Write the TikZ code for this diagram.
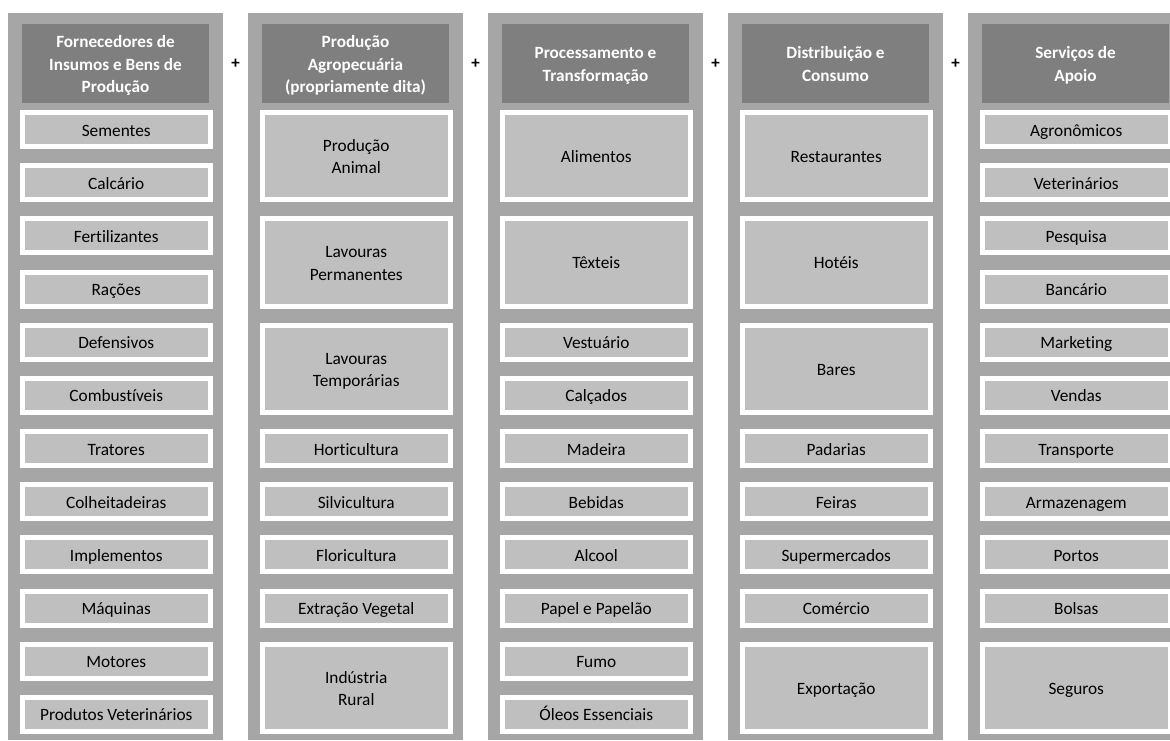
\documentclass[tikz,border=0pt]{standalone}
\usepackage{fontspec}
\setmainfont{Carlito}[Ligatures=NoCommon]
\definecolor{colbg}{HTML}{A6A6A6}
\definecolor{headbg}{HTML}{7F7F7F}
\definecolor{itembg}{HTML}{BFBFBF}

% struts that fix the height of the first line and the depth of the last one
\newcommand\topstrut{\rule{0pt}{17.5pt}}
\newcommand\botstrut{\rule[-4.5pt]{0pt}{4.5pt}}

% \cell{name}{column left x}{first slot}{slots spanned}{text}
\newcommand\cell[5]{%
  \pgfmathsetmacro\celltop{110+53.18*#3}%
  \pgfmathsetmacro\cellbot{110+53.18*(#3+#4-1)+39}%
  \pgfmathsetmacro\cellh{\cellbot-\celltop-5}%
  \pgfmathsetmacro\celly{(\celltop+\cellbot)/2}%
  \node[itembox, minimum height=\cellh pt] (#1) at ({#2+108.25},\celly) {\topstrut#5\botstrut};%
}
% \column{name}{column left x}{header text}
\newcommand\column[3]{%
  \fill[colbg] (#2,13) rectangle ({#2+215},740);
  \node[headbox] (#1) at ({#2+107.5},63.5) {\topstrut#3\botstrut};%
}

\begin{document}
\begin{tikzpicture}[x=1pt,y=-1pt,
  headbox/.style={fill=headbg, minimum width=187pt, minimum height=79pt,
    inner sep=0pt, text=white, align=center,
    font=\fontsize{17.2}{22.5}\selectfont\bfseries},
  itembox/.style={fill=itembg, draw=white, line width=5pt,
    minimum width=187.5pt, inner sep=0pt, align=center, text=black,
    font=\fontsize{17.3}{22.5}\selectfont},
  plussign/.style={inner sep=0pt, font=\fontsize{17}{20}\selectfont\bfseries}]
\useasboundingbox (0,0) rectangle (1170,740);
\clip (0,0) rectangle (1170,740);
\fill[white] (0,0) rectangle (1170,740);

% column backgrounds and headers
\column{h1}{8}{Fornecedores de\\Insumos e Bens de\\Produção}
\column{h2}{248}{Produção\\Agropecuária\\(propriamente dita)}
\column{h3}{488}{Processamento e\\Transformação}
\column{h4}{728}{Distribuição e\\Consumo}
\column{h5}{968}{Serviços de\\Apoio}

% plus signs between the headers
\node[plussign] (p1) at (235.7,64) {+};
\node[plussign] (p2) at (475.7,64) {+};
\node[plussign] (p3) at (715.7,64) {+};
\node[plussign] (p4) at (955.7,64) {+};

% column 1: suppliers
\cell{a1}{8}{0}{1}{Sementes}
\cell{a2}{8}{1}{1}{Calcário}
\cell{a3}{8}{2}{1}{Fertilizantes}
\cell{a4}{8}{3}{1}{Rações}
\cell{a5}{8}{4}{1}{Defensivos}
\cell{a6}{8}{5}{1}{Combustíveis}
\cell{a7}{8}{6}{1}{Tratores}
\cell{a8}{8}{7}{1}{Colheitadeiras}
\cell{a9}{8}{8}{1}{Implementos}
\cell{a10}{8}{9}{1}{Máquinas}
\cell{a11}{8}{10}{1}{Motores}
\cell{a12}{8}{11}{1}{Produtos Veterinários}

% column 2: farm production
\cell{b1}{248}{0}{2}{Produção\\Animal}
\cell{b2}{248}{2}{2}{Lavouras\\Permanentes}
\cell{b3}{248}{4}{2}{Lavouras\\Temporárias}
\cell{b4}{248}{6}{1}{Horticultura}
\cell{b5}{248}{7}{1}{Silvicultura}
\cell{b6}{248}{8}{1}{Floricultura}
\cell{b7}{248}{9}{1}{Extração Vegetal}
\cell{b8}{248}{10}{2}{Indústria\\Rural}

% column 3: processing
\cell{c1}{488}{0}{2}{Alimentos}
\cell{c2}{488}{2}{2}{Têxteis}
\cell{c3}{488}{4}{1}{Vestuário}
\cell{c4}{488}{5}{1}{Calçados}
\cell{c5}{488}{6}{1}{Madeira}
\cell{c6}{488}{7}{1}{Bebidas}
\cell{c7}{488}{8}{1}{Alcool}
\cell{c8}{488}{9}{1}{Papel e Papelão}
\cell{c9}{488}{10}{1}{Fumo}
\cell{c10}{488}{11}{1}{Óleos Essenciais}

% column 4: distribution
\cell{d1}{728}{0}{2}{Restaurantes}
\cell{d2}{728}{2}{2}{Hotéis}
\cell{d3}{728}{4}{2}{Bares}
\cell{d4}{728}{6}{1}{Padarias}
\cell{d5}{728}{7}{1}{Feiras}
\cell{d6}{728}{8}{1}{Supermercados}
\cell{d7}{728}{9}{1}{Comércio}
\cell{d8}{728}{10}{2}{Exportação}

% column 5: support services
\cell{e1}{968}{0}{1}{Agronômicos}
\cell{e2}{968}{1}{1}{Veterinários}
\cell{e3}{968}{2}{1}{Pesquisa}
\cell{e4}{968}{3}{1}{Bancário}
\cell{e5}{968}{4}{1}{Marketing}
\cell{e6}{968}{5}{1}{Vendas}
\cell{e7}{968}{6}{1}{Transporte}
\cell{e8}{968}{7}{1}{Armazenagem}
\cell{e9}{968}{8}{1}{Portos}
\cell{e10}{968}{9}{1}{Bolsas}
\cell{e11}{968}{10}{2}{Seguros}
\end{tikzpicture}
\end{document}
